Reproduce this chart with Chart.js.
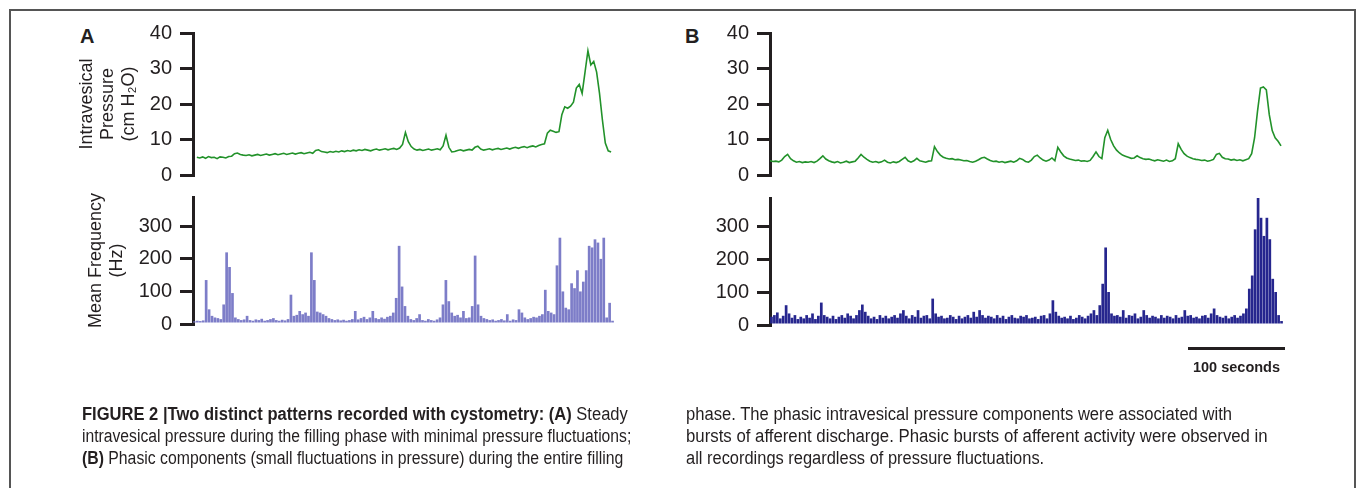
<!DOCTYPE html>
<html>
<head>
<meta charset="utf-8">
<script src="https://cdn.jsdelivr.net/npm/chart.js@4.4.1/dist/chart.umd.min.js"></script>
<style>
body{margin:0;background:#fff;width:1357px;height:488px;overflow:hidden;position:relative;font-family:"Liberation Sans",Arial,sans-serif;color:#231f20}
canvas{position:absolute;left:0;top:0}
#frame{position:absolute;left:9px;top:9px;width:1343px;height:520px;border:2px solid #555;border-bottom:none}
.lbl{position:absolute;font-weight:bold;font-size:20px;line-height:20px}
#scalebar{position:absolute;left:1188px;top:347px;width:97px;height:3px;background:#231f20}
#sec{position:absolute;left:1178px;width:117px;top:359px;text-align:center;font-weight:bold;font-size:14.5px}
.cap{position:absolute;font-size:18px;line-height:22px;white-space:nowrap;transform-origin:0 0}
</style>
</head>
<body>
<div id="frame"></div>
<div class="lbl" style="left:80px;top:26px">A</div>
<div class="lbl" style="left:685px;top:26px">B</div>
<canvas id="pa" width="1357" height="488"></canvas>
<canvas id="fa" width="1357" height="488"></canvas>
<canvas id="pb" width="1357" height="488"></canvas>
<canvas id="fb" width="1357" height="488"></canvas>
<div id="scalebar"></div>
<div id="sec">100 seconds</div>
<div class="cap" data-w="546" style="left:82px;top:403px"><b>FIGURE 2 |Two distinct patterns recorded with cystometry: (A)</b> Steady</div>
<div class="cap" data-w="549" style="left:82px;top:425px">intravesical pressure during the filling phase with minimal pressure fluctuations;</div>
<div class="cap" data-w="541" style="left:82px;top:447px"><b>(B)</b> Phasic components (small fluctuations in pressure) during the entire filling</div>
<div class="cap" data-w="546" style="left:686px;top:403px">phase. The phasic intravesical pressure components were associated with</div>
<div class="cap" data-w="582" style="left:686px;top:425px">bursts of afferent discharge. Phasic bursts of afferent activity were observed in</div>
<div class="cap" data-w="358" style="left:686px;top:447px">all recordings regardless of pressure fluctuations.</div>
<script>
// sampling step (seconds) of the traces and histogram bins
const stepA = 3;
const stepB = 3;

// A: steady filling, intravesical pressure (cm H2O)
const pressureA = [5.0,4.8,5.1,4.7,5.2,4.9,5.0,4.6,5.1,5.0,4.8,5.2,5.3,
  6.0,6.2,5.8,
  5.6,5.5,5.7,5.4,5.6,5.8,5.5,5.7,5.9,5.6,5.8,6.0,5.7,5.9,6.1,5.8,6.0,6.2,5.9,6.1,6.3,6.0,6.2,6.4,6.1,
  6.9,7.1,6.6,
  6.5,6.3,6.6,6.4,6.7,6.5,6.8,6.6,6.9,6.7,7.0,6.8,7.1,6.9,7.2,7.0,6.8,7.1,7.3,7.0,7.2,7.4,7.1,7.3,7.5,7.2,7.6,
  8.6,12.0,9.4,8.0,
  7.3,7.0,7.2,6.9,7.1,7.3,7.0,7.2,7.4,7.1,
  8.2,11.2,7.8,
  6.5,6.6,
  6.9,7.1,6.8,7.0,7.2,7.0,
  7.8,8.1,
  7.3,7.0,7.2,7.4,7.1,7.3,7.5,7.2,7.4,7.6,7.3,7.6,7.8,7.5,7.8,8.0,7.7,8.0,8.2,7.9,8.3,8.6,
  8.8,11.8,12.6,12.3,12.0,12.2,17.0,19.2,18.8,19.4,20.5,24.5,25.5,23.0,29.0,35.0,31.0,32.0,29.0,23.0,15.5,9.0,6.8,6.5];

// A: mean afferent frequency (Hz)
const freqA = [8,10,9,11,135,45,25,20,18,15,
  60,220,175,95,20,15,12,14,25,12,
  10,14,12,16,10,12,15,18,12,10,
  13,11,15,90,25,28,40,30,35,25,
  220,135,38,35,30,25,18,15,12,14,
  11,13,10,12,15,40,14,18,22,15,
  20,40,18,15,20,16,22,25,35,80,
  240,115,55,25,15,12,18,30,12,10,
  15,12,10,14,20,60,135,70,35,25,
  28,20,40,18,20,55,210,60,25,18,
  15,12,14,10,12,15,11,30,10,14,
  12,45,35,20,15,18,22,20,25,30,
  105,40,35,30,180,265,100,50,45,125,
  110,165,100,130,165,240,235,260,250,200,
  265,20,65,10];

// B: phasic filling, intravesical pressure (cm H2O)
const pressureB = [4.0,3.8,3.9,3.7,4.2,5.2,5.8,4.6,4.0,3.6,
  3.8,3.5,3.7,3.6,3.8,3.5,3.9,4.6,5.4,4.5,
  4.0,3.7,3.5,3.8,3.4,3.6,3.9,3.5,3.7,3.9,
  4.8,5.8,5.0,4.4,3.9,3.6,3.8,3.5,3.7,4.2,
  3.6,3.4,3.7,3.5,3.8,4.4,5.0,4.0,3.6,4.0,
  4.7,4.0,3.8,3.6,3.9,4.0,8.0,6.6,5.6,5.0,
  4.7,4.5,4.6,4.3,4.4,4.2,4.0,4.1,3.8,3.6,
  3.9,4.3,4.8,5.0,4.5,4.1,3.8,3.9,3.6,3.8,
  3.5,3.7,3.9,3.6,4.0,4.7,4.4,3.8,3.6,4.2,
  5.2,5.6,4.8,4.2,3.9,4.2,4.8,4.0,7.8,6.5,
  5.4,4.8,4.5,4.3,4.1,4.2,3.9,4.0,3.8,4.1,
  5.2,6.5,5.2,4.6,10.5,12.6,10.0,8.2,7.0,6.2,
  5.6,5.3,5.0,4.7,4.8,5.4,4.9,4.6,4.4,4.5,
  4.2,4.0,4.3,4.1,3.9,4.2,3.8,4.0,4.6,8.8,
  7.2,6.0,5.3,4.9,4.6,4.4,4.3,4.1,4.2,3.9,
  4.1,4.4,5.8,6.1,5.0,4.6,4.5,4.2,4.4,4.1,
  4.3,4.0,4.3,4.6,6.0,10.5,18.0,24.5,24.8,24.0,
  17.0,12.5,10.5,9.5,8.2];

// B: mean afferent frequency (Hz)
const freqB = [25,30,38,20,28,60,35,22,30,18,
  25,20,30,22,35,18,28,68,30,25,
  20,28,18,25,30,22,35,28,20,30,
  45,62,40,28,20,25,18,30,22,28,
  20,25,30,22,35,45,28,20,30,25,
  45,22,28,30,20,80,35,25,28,20,
  22,30,25,18,28,20,25,30,22,40,
  25,45,30,22,28,25,20,30,22,28,
  18,25,30,22,20,28,25,30,20,22,
  25,18,28,30,20,35,75,40,28,22,
  25,20,28,18,22,30,25,20,28,35,
  45,30,60,125,235,100,35,28,30,25,
  45,22,30,28,35,20,25,45,30,22,
  28,25,20,30,22,28,25,20,30,22,
  25,45,28,30,22,25,20,28,30,22,
  35,50,30,25,22,28,20,25,30,22,
  28,35,50,110,150,290,385,325,270,325,
  260,140,100,30,12];

const pressureTicks = [0, 10, 20, 30, 40];
const freqTicks = [0, 100, 200, 300];
const pressureTitle = ['Intravesical', 'Pressure', '(cm H\u2082O)'];
const freqTitle = ['Mean Frequency', '(Hz)'];

const W = 1357, H = 488;
const ink = '#231f20';
const fam = '"Liberation Sans", Arial, sans-serif';

function yAxis(area, max, ticks, title, titlePad) {
  return {
    min: 0, max: max,
    afterBuildTicks: s => { s.ticks = ticks.map(v => ({value: v})); },
    afterFit: s => { s.width = area.left; },
    border: {display: true, color: ink, width: 3},
    grid: {drawOnChartArea: false, drawTicks: true, tickLength: 13, tickWidth: 3, tickColor: ink, lineWidth: 3, color: ink},
    ticks: {color: ink, padding: 8, font: {family: fam, size: 20}},
    title: {display: !!title, text: title || '', color: ink,
      font: {family: fam, size: 18, lineHeight: 1.15}, padding: {top: titlePad || 0, bottom: 0}}
  };
}

function panel(id, type, area, datasets, labels, x, y) {
  new Chart(document.getElementById(id), {
    type: type,
    data: {labels: labels, datasets: datasets},
    options: {
      responsive: false, animation: false, events: [],
      layout: {padding: {left: 0, top: area.top, right: W - area.right, bottom: H - area.bottom}},
      plugins: {legend: {display: false}, tooltip: {enabled: false}},
      scales: {x: x, y: y}
    }
  });
}

function trace(values, step, color) {
  return [{data: values.map((v, i) => ({x: i * step, y: v})), borderColor: color,
    borderWidth: 1.6, pointRadius: 0, tension: 0, fill: false}];
}
function hist(values, color) {
  return [{data: values, backgroundColor: color, borderWidth: 0,
    barPercentage: 0.92, categoryPercentage: 1}];
}

const areaPA = {left: 193, right: 614, top: 33, bottom: 175};
const areaFA = {left: 193, right: 614, top: 197, bottom: 324};
const areaPB = {left: 770, right: 1282, top: 33, bottom: 175};
const areaFB = {left: 770, right: 1283, top: 198, bottom: 325};

panel('pa', 'line', areaPA, trace(pressureA, stepA, '#22922a'), undefined,
  {type: 'linear', display: false, min: -4, max: pressureA.length * stepA},
  yAxis(areaPA, 40, pressureTicks, pressureTitle, 77));
panel('fa', 'bar', areaFA, hist(freqA, '#7d7dc8'), freqA.map((_, i) => i * stepA),
  {display: false},
  yAxis(areaFA, 390, freqTicks, freqTitle, 86));
panel('pb', 'line', areaPB, trace(pressureB, stepB, '#22922a'), undefined,
  {type: 'linear', display: false, min: 0, max: (pressureB.length - 1) * stepB + 1},
  yAxis(areaPB, 40, pressureTicks));
panel('fb', 'bar', areaFB, hist(freqB, '#26268e'), freqB.map((_, i) => i * stepB),
  {display: false},
  yAxis(areaFB, 385, freqTicks));

// condensed caption type: squeeze each printed line to its width
document.querySelectorAll('.cap').forEach(el => {
  el.style.transform = 'scaleX(' + (Number(el.dataset.w) / el.offsetWidth) + ')';
});
</script>
</body>
</html>
